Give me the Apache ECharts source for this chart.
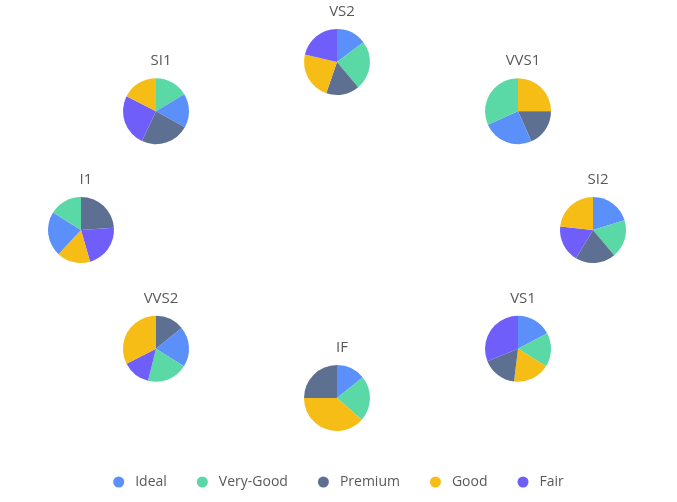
<!DOCTYPE html>
<html><head><meta charset="utf-8">
<script src="https://cdn.jsdelivr.net/npm/echarts@6/dist/echarts.min.js"></script>
<style>html,body{margin:0;padding:0;background:#fff}#c{width:677px;height:502px}</style>
</head><body><div id="c"></div>
<script>
// Pie groups (clarity), clockwise from top
const clarities = ['VS2', 'VVS1', 'SI2', 'VS1', 'IF', 'VVS2', 'I1', 'SI1'];
const legendNames = ['Ideal', 'Very-Good', 'Premium', 'Good', 'Fair'];
// Per-pie slice order (clockwise from 12 o'clock) and values (degrees estimated)
const namesVS2 = ['Ideal', 'Very-Good', 'Premium', 'Good', 'Fair'];
const valsVS2 = [53, 87, 59, 84, 77];
const namesVVS1 = ['Good', 'Premium', 'Ideal', 'Very-Good'];
const valsVVS1 = [90, 66, 90, 114];
const namesSI2 = ['Ideal', 'Very-Good', 'Premium', 'Fair', 'Good'];
const valsSI2 = [73, 67, 71, 65, 84];
const namesVS1 = ['Ideal', 'Very-Good', 'Good', 'Premium', 'Fair'];
const valsVS1 = [62, 60, 65, 61, 112];
const namesIF = ['Ideal', 'Very-Good', 'Good', 'Premium'];
const valsIF = [51, 80, 139, 90];
const namesVVS2 = ['Premium', 'Ideal', 'Very-Good', 'Fair', 'Good'];
const valsVVS2 = [51, 71, 72, 49, 117];
const namesI1 = ['Premium', 'Fair', 'Good', 'Ideal', 'Very-Good'];
const valsI1 = [86, 78, 59, 79, 58];
const namesSI1 = ['Very-Good', 'Ideal', 'Premium', 'Fair', 'Good'];
const valsSI1 = [59, 60, 86, 92, 63];

const pieNames = [namesVS2, namesVVS1, namesSI2, namesVS1, namesIF, namesVVS2, namesI1, namesSI1];
const pieVals = [valsVS2, valsVVS1, valsSI2, valsVS1, valsIF, valsVVS2, valsI1, valsSI1];

const colorMap = {'Ideal':'#5B8FF9','Very-Good':'#5AD8A6','Premium':'#5D7092','Good':'#F6BD16','Fair':'#6F5EF9'};

const CX = 337, CY = 230, RX = 256, RY = 168, R = 33;
const series = [], titles = [];
clarities.forEach((c, i) => {
  const a = i * Math.PI / 4;
  const x = CX + RX * Math.sin(a);
  const y = CY - RY * Math.cos(a);
  series.push({
    type: 'pie', name: c, radius: R, center: [x, y],
    startAngle: 90, clockwise: true, label: {show: false}, labelLine: {show: false},
    emphasis: {disabled: true}, animation: false,
    itemStyle: {borderWidth: 0},
    data: pieNames[i].map((n, k) => ({name: n, value: pieVals[i][k], itemStyle: {color: colorMap[n]}}))
  });
  titles.push({
    text: c, left: x, top: y - R - 30, textAlign: 'center',
    textStyle: {fontFamily: 'Open Sans', fontSize: 15, fontWeight: 'normal', color: '#595959'}
  });
});

const chart = echarts.init(document.getElementById('c'));
chart.setOption({
  animation: false,
  title: titles,
  legend: {
    data: legendNames.map(n => ({name: n, itemStyle: {color: colorMap[n]}})),
    bottom: 8, left: 'center', icon: 'circle', itemWidth: 11, itemHeight: 11, itemGap: 30,
    textStyle: {fontFamily: 'Open Sans', fontSize: 14, color: '#595959', padding: [0, 0, 0, 6]}
  },
  series: series
});
</script></body></html>
